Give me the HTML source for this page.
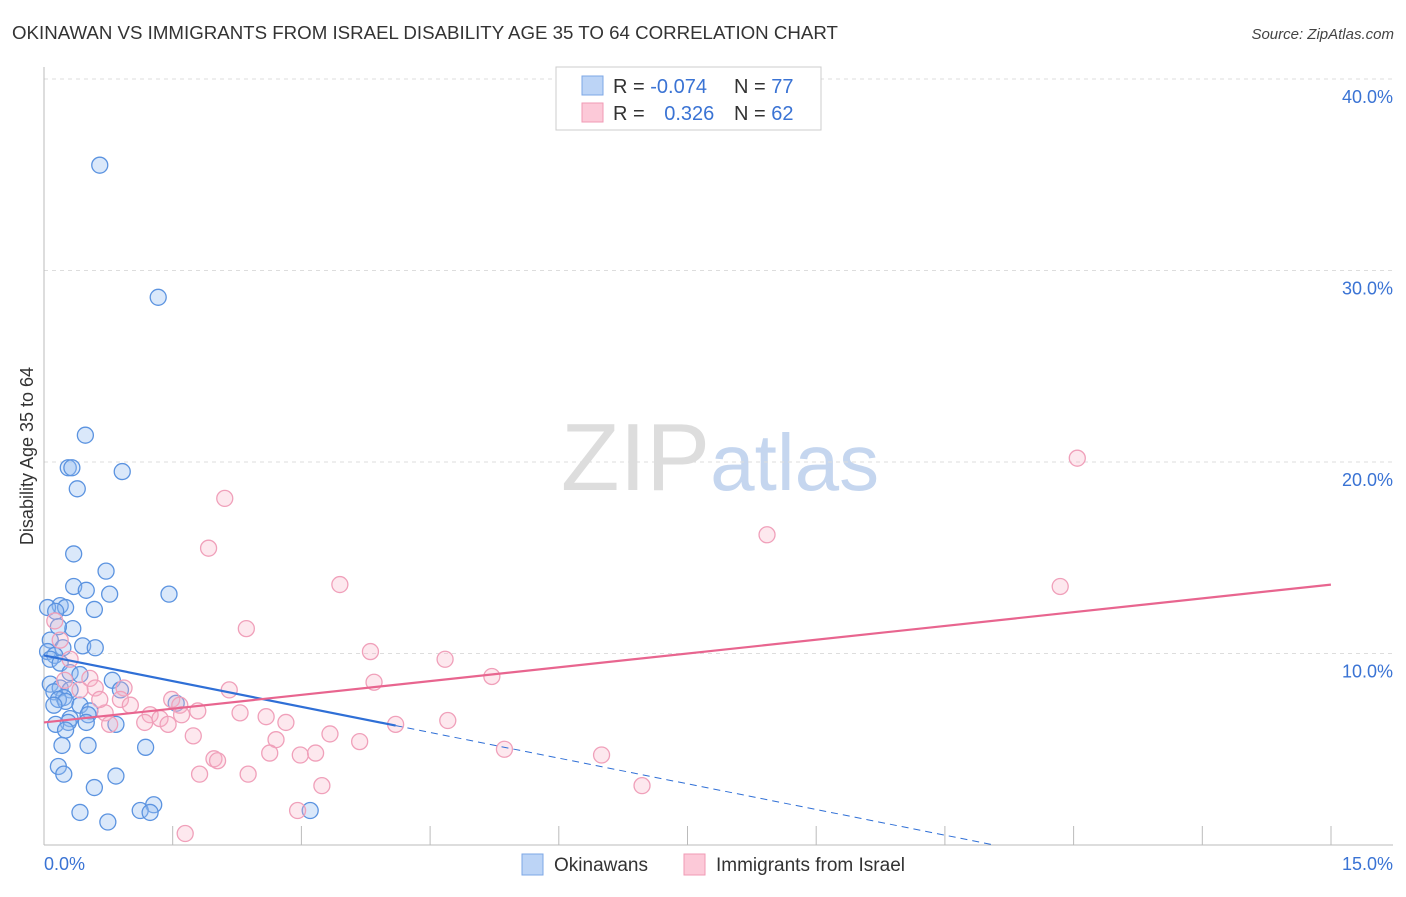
<!DOCTYPE html>
<html><head><meta charset="utf-8"><style>
body{margin:0;background:#fff;font-family:"Liberation Sans",sans-serif;}
svg text{font-family:"Liberation Sans",sans-serif;}
</style></head><body>
<svg id="chart" width="1406" height="892" xmlns="http://www.w3.org/2000/svg">
<text x="12" y="39" font-size="18.7" fill="#333">OKINAWAN VS IMMIGRANTS FROM ISRAEL DISABILITY AGE 35 TO 64 CORRELATION CHART</text>
<text x="1394" y="39" font-size="15" fill="#444" font-style="italic" text-anchor="end">Source: ZipAtlas.com</text>
<text x="720" y="490" font-size="96" text-anchor="middle" fill="#ddd" font-family="Liberation Serif">ZIP<tspan fill="#c5d6ef" font-family="Liberation Sans" font-size="80">atlas</tspan></text>
<text transform="translate(33,456) rotate(-90)" font-size="18" fill="#333" text-anchor="middle">Disability Age 35 to 64</text>
<g id="grid"></g><g id="ticks"></g><g id="marks"></g><g id="lines"></g>
<g>
<rect x="556" y="67" width="265" height="63" fill="#fff" stroke="#ccc"/>
<rect x="582" y="76" width="21" height="19" fill="#bcd4f6" stroke="#7da7e6"/>
<text x="613" y="93" font-size="20" fill="#333">R = <tspan fill="#3a73d4">-0.074</tspan></text>
<text x="734" y="93" font-size="20" fill="#333">N = <tspan fill="#3a73d4">77</tspan></text>
<rect x="582" y="103" width="21" height="19" fill="#fcc9d8" stroke="#f09ab5"/>
<text x="613" y="120" font-size="20" fill="#333">R = <tspan fill="#3a73d4" dx="14">0.326</tspan></text>
<text x="734" y="120" font-size="20" fill="#333">N = <tspan fill="#3a73d4">62</tspan></text>
</g>
<g>
<rect x="522" y="854" width="21" height="21" fill="#bcd4f6" stroke="#7da7e6"/>
<text x="554" y="871" font-size="19" fill="#333">Okinawans</text>
<rect x="684" y="854" width="21" height="21" fill="#fcc9d8" stroke="#f09ab5"/>
<text x="716" y="871" font-size="19" fill="#333">Immigrants from Israel</text>
</g>
<text x="44" y="870" font-size="18" fill="#3a73d4">0.0%</text>
<text x="1393" y="870" font-size="18" fill="#3a73d4" text-anchor="end">15.0%</text>
</svg>
<script>
const blueX=[0.62,1.27,0.46,0.27,0.31,0.87,0.37,0.33,0.69,0.33,0.47,0.73,1.39,0.18,0.24,0.04,0.56,0.13,0.32,0.16,0.07,0.43,0.57,0.21,0.04,0.12,0.07,0.18,0.29,0.40,0.76,0.07,0.18,0.11,0.29,0.85,0.22,0.16,0.24,0.40,0.11,1.47,0.51,0.49,0.29,0.27,0.13,0.47,0.80,0.24,0.20,0.49,1.13,0.16,0.22,0.80,0.56,1.22,1.07,0.40,1.18,2.96,0.71];
const blueY=[35.5,28.6,21.4,19.7,19.7,19.5,18.6,15.2,14.3,13.5,13.3,13.1,13.1,12.5,12.4,12.4,12.3,12.2,11.3,11.4,10.7,10.4,10.3,10.3,10.1,9.9,9.7,9.5,9.0,8.9,8.6,8.4,8.2,8.0,8.1,8.1,7.7,7.6,7.5,7.3,7.3,7.4,7.0,6.8,6.6,6.4,6.3,6.4,6.3,6.0,5.2,5.2,5.1,4.1,3.7,3.6,3.0,2.1,1.8,1.7,1.7,1.8,1.2];
const pinkX=[11.49,8.04,2.01,1.83,3.29,11.30,2.25,3.63,4.46,0.12,0.18,0.29,4.98,3.67,0.51,0.57,0.89,2.06,1.42,1.51,1.71,2.18,0.85,0.96,0.68,1.18,1.29,1.53,2.47,2.69,3.91,4.49,3.18,1.66,2.58,3.51,0.73,1.12,1.38,2.51,2.85,3.02,5.12,6.20,1.89,1.93,1.73,2.27,3.09,6.65,2.82,1.57,0.40,0.23,0.62];
const pinkY=[20.2,16.2,18.1,15.5,13.6,13.5,11.3,10.1,9.7,11.7,10.7,9.7,8.8,8.5,8.7,8.2,8.2,8.1,7.6,7.3,7.0,6.9,7.6,7.3,6.9,6.8,6.6,6.8,6.7,6.4,6.3,6.5,5.8,5.7,5.5,5.4,6.3,6.4,6.3,4.8,4.7,4.8,5.0,4.7,4.5,4.4,3.7,3.7,3.1,3.1,1.8,0.6,8.1,8.6,7.6];
const yTicks=[10,20,30,40];
const yTickLabels=["10.0%","20.0%","30.0%","40.0%"];
const blueLine=[9.9,-0.937,3.91,10.57];
const pinkLine=[6.4,0.503,14.31];
const X=v=>44+v*89.93, Y=v=>845-v*19.15;
const NS="http://www.w3.org/2000/svg";
function mk(t,a,p){const e=document.createElementNS(NS,t);for(const k in a)e.setAttribute(k,a[k]);document.getElementById(p).appendChild(e);return e;}
yTicks.forEach((t,i)=>{
 const g=mk('line',{x1:44,x2:1393,y1:Y(t),y2:Y(t),stroke:'#ddd','stroke-dasharray':'4,4'},'grid');
 
 
 const l=mk('text',{x:1393,y:Y(t)+24,'font-size':18,fill:'#3a73d4','text-anchor':'end'},'ticks');
 l.textContent=yTickLabels[i];
 
 
});
const ax=mk('line',{x1:44,x2:44,y1:67,y2:845,stroke:'#bbb'},'grid');


const bx=mk('line',{x1:44,x2:1393,y1:845,y2:845,stroke:'#bbb'},'grid');


for(let i=1;i<=10;i++){const t=mk('line',{x1:44+i*128.7,x2:44+i*128.7,y1:826,y2:845,stroke:'#bbb'},'grid');
 
 }
blueX.forEach((v,i)=>{const c=mk('circle',{cx:X(v),cy:Y(blueY[i]),r:8,fill:'rgba(150,190,240,0.35)',stroke:'#5b93e0','stroke-width':1.3},'marks');
 
 });
pinkX.forEach((v,i)=>{const c=mk('circle',{cx:X(v),cy:Y(pinkY[i]),r:8,fill:'rgba(250,180,200,0.3)',stroke:'#f0a0ba','stroke-width':1.3},'marks');
 
 });
const b1=mk('line',{x1:X(0),y1:Y(blueLine[0]),x2:X(blueLine[2]),y2:Y(blueLine[0]+blueLine[1]*blueLine[2]),stroke:'#2f6fd6','stroke-width':2.2},'lines');


const b2=mk('line',{x1:X(blueLine[2]),y1:Y(blueLine[0]+blueLine[1]*blueLine[2]),x2:X(blueLine[3]),y2:Y(blueLine[0]+blueLine[1]*blueLine[3]),stroke:'#2f6fd6','stroke-width':1,'stroke-dasharray':'7,5'},'lines');


const p1=mk('line',{x1:X(0),y1:Y(pinkLine[0]),x2:X(pinkLine[2]),y2:Y(pinkLine[0]+pinkLine[1]*pinkLine[2]),stroke:'#e8658f','stroke-width':2.2},'lines');


</script>
</body></html>
